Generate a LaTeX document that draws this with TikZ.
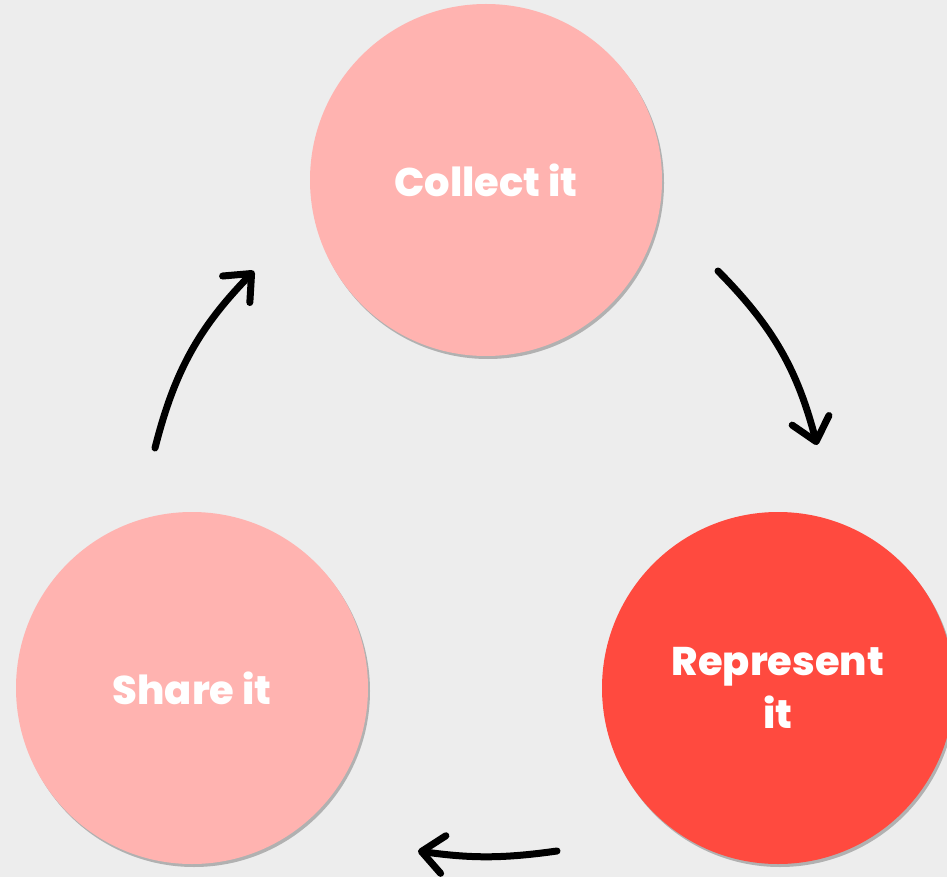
\documentclass[tikz,border=0pt]{standalone}
\usepackage{fontspec}
\setmainfont{Poppins}
\newfontfamily\popxb{Poppins ExtraBold}
\usetikzlibrary{arrows.meta,shadows}
\definecolor{bg}{HTML}{EDEDED}
\definecolor{pinkc}{HTML}{FFB3B0}
\definecolor{redc}{HTML}{FF4A3F}
\tikzset{
  stage/.style={circle, minimum size=352pt, inner sep=0pt, text=white,
    font=\popxb\fontsize{40}{53}\selectfont, align=center,
    drop shadow={shadow xshift=2pt, shadow yshift=-3pt, opacity=0.25, fill=black}},
  cyc/.style={line width=7pt, line cap=round,
    -{Straight Barb[length=22pt, width=38pt, line cap=round, line join=round]}}
}
\begin{document}
\begin{tikzpicture}[x=1pt,y=1pt]
\fill[bg] (0,0) rectangle (947,-877);
\useasboundingbox (0,0) rectangle (947,-877);
\begin{scope}
\clip (0,0) rectangle (947,-877);
\node[stage, fill=pinkc] (collect) at (486,-180) {Collect it};
\node[stage, fill=pinkc] (share) at (192,-688) {Share it};
\node[stage, fill=redc] (represent) at (778,-688) {Represent\\it};
\end{scope}
\coordinate (a1s) at (155,-448);
\coordinate (a1e) at (254,-271);
\coordinate (a2s) at (718,-271);
\coordinate (a2e) at (817,-445);
\coordinate (a3s) at (557,-851);
\coordinate (a3e) at (418,-851);
\draw[cyc] (a1s) to[bend left=15] (a1e);
\draw[cyc] (a2s) to[bend left=15] (a2e);
\draw[cyc] (a3s) to[bend left=8] (a3e);
\end{tikzpicture}
\end{document}
